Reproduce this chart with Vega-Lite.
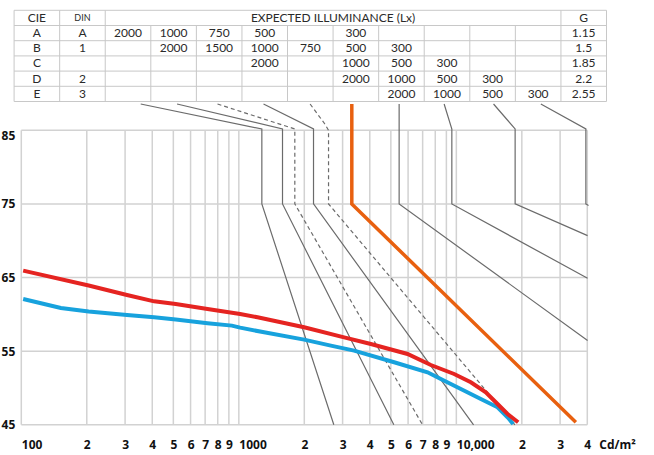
{
  "$schema": "https://vega.github.io/schema/vega-lite/v6.json",
  "padding": {"left": 0.3, "top": 9.3, "right": 8, "bottom": 4},
  "background": "white",
  "spacing": -5.5,
  "config": {"view": {"stroke": null}},
  "datasets": {
    "tableH": [
      {"r": 0, "c0": 0, "c1": 13}, {"r": 1, "c0": 0, "c1": 13}, {"r": 2, "c0": 0, "c1": 13},
      {"r": 3, "c0": 0, "c1": 13}, {"r": 4, "c0": 0, "c1": 13}, {"r": 5, "c0": 0, "c1": 13},
      {"r": 6, "c0": 0, "c1": 13}
    ],
    "tableV": [
      {"c": 0, "r0": 0, "r1": 6}, {"c": 1, "r0": 0, "r1": 6}, {"c": 2, "r0": 0, "r1": 6},
      {"c": 3, "r0": 1, "r1": 6}, {"c": 4, "r0": 1, "r1": 6}, {"c": 5, "r0": 1, "r1": 6},
      {"c": 6, "r0": 1, "r1": 6}, {"c": 7, "r0": 1, "r1": 6}, {"c": 8, "r0": 1, "r1": 6},
      {"c": 9, "r0": 1, "r1": 6}, {"c": 10, "r0": 1, "r1": 6}, {"c": 11, "r0": 1, "r1": 6},
      {"c": 12, "r0": 0, "r1": 6}, {"c": 13, "r0": 0, "r1": 6}
    ],
    "tableT": [
      {"x": 0.5, "y": 0.5, "t": "CIE"}, {"x": 1.5, "y": 0.5, "t": "DIN"},
      {"x": 7, "y": 0.5, "t": "EXPECTED ILLUMINANCE (Lx)"}, {"x": 12.5, "y": 0.5, "t": "G"},
      {"x": 0.5, "y": 1.5, "t": "A"}, {"x": 1.5, "y": 1.5, "t": "A"}, {"x": 2.5, "y": 1.5, "t": "2000"},
      {"x": 3.5, "y": 1.5, "t": "1000"}, {"x": 4.5, "y": 1.5, "t": "750"}, {"x": 5.5, "y": 1.5, "t": "500"},
      {"x": 7.5, "y": 1.5, "t": "300"}, {"x": 12.5, "y": 1.5, "t": "1.15"},
      {"x": 0.5, "y": 2.5, "t": "B"}, {"x": 1.5, "y": 2.5, "t": "1"}, {"x": 3.5, "y": 2.5, "t": "2000"},
      {"x": 4.5, "y": 2.5, "t": "1500"}, {"x": 5.5, "y": 2.5, "t": "1000"}, {"x": 6.5, "y": 2.5, "t": "750"},
      {"x": 7.5, "y": 2.5, "t": "500"}, {"x": 8.5, "y": 2.5, "t": "300"}, {"x": 12.5, "y": 2.5, "t": "1.5"},
      {"x": 0.5, "y": 3.5, "t": "C"}, {"x": 5.5, "y": 3.5, "t": "2000"}, {"x": 7.5, "y": 3.5, "t": "1000"},
      {"x": 8.5, "y": 3.5, "t": "500"}, {"x": 9.5, "y": 3.5, "t": "300"}, {"x": 12.5, "y": 3.5, "t": "1.85"},
      {"x": 0.5, "y": 4.5, "t": "D"}, {"x": 1.5, "y": 4.5, "t": "2"}, {"x": 7.5, "y": 4.5, "t": "2000"},
      {"x": 8.5, "y": 4.5, "t": "1000"}, {"x": 9.5, "y": 4.5, "t": "500"}, {"x": 10.5, "y": 4.5, "t": "300"},
      {"x": 12.5, "y": 4.5, "t": "2.2"},
      {"x": 0.5, "y": 5.5, "t": "E"}, {"x": 1.5, "y": 5.5, "t": "3"}, {"x": 8.5, "y": 5.5, "t": "2000"},
      {"x": 9.5, "y": 5.5, "t": "1000"}, {"x": 10.5, "y": 5.5, "t": "500"}, {"x": 11.5, "y": 5.5, "t": "300"},
      {"x": 12.5, "y": 5.5, "t": "2.55"}
    ],
    "gridX": [
      {"v": 100}, {"v": 200}, {"v": 300}, {"v": 400}, {"v": 500}, {"v": 600}, {"v": 700}, {"v": 800}, {"v": 900},
      {"v": 1000}, {"v": 2000}, {"v": 3000}, {"v": 4000}, {"v": 5000}, {"v": 6000}, {"v": 7000}, {"v": 8000},
      {"v": 9000}, {"v": 10000}, {"v": 20000}, {"v": 30000}, {"v": 40000}
    ],
    "gridY": [{"a": 45}, {"a": 55}, {"a": 65}, {"a": 75}, {"a": 85}],
    "lines": [
      {"id": "L1", "k": "s", "o": 1, "lum": 354, "ang": 88.57},
      {"id": "L1", "k": "s", "o": 2, "lum": 1276, "ang": 85.18},
      {"id": "L1", "k": "s", "o": 3, "lum": 1276, "ang": 75},
      {"id": "L1", "k": "s", "o": 4, "lum": 2734, "ang": 45},
      {"id": "L2", "k": "s", "o": 1, "lum": 520, "ang": 88.57},
      {"id": "L2", "k": "s", "o": 2, "lum": 1588, "ang": 85.18},
      {"id": "L2", "k": "s", "o": 3, "lum": 1588, "ang": 75},
      {"id": "L2", "k": "s", "o": 4, "lum": 5160, "ang": 45},
      {"id": "L4", "k": "s", "o": 1, "lum": 1299, "ang": 88.57},
      {"id": "L4", "k": "s", "o": 2, "lum": 2205, "ang": 85.18},
      {"id": "L4", "k": "s", "o": 3, "lum": 2205, "ang": 75},
      {"id": "L4", "k": "s", "o": 4, "lum": 12000, "ang": 45},
      {"id": "L7", "k": "s", "o": 1, "lum": 5458, "ang": 88.57},
      {"id": "L7", "k": "s", "o": 2, "lum": 5458, "ang": 75},
      {"id": "L7", "k": "s", "o": 3, "lum": 40110, "ang": 56.44},
      {"id": "L8", "k": "s", "o": 1, "lum": 8788, "ang": 88.57},
      {"id": "L8", "k": "s", "o": 2, "lum": 9535, "ang": 85.18},
      {"id": "L8", "k": "s", "o": 3, "lum": 9535, "ang": 75},
      {"id": "L8", "k": "s", "o": 4, "lum": 40110, "ang": 64.9},
      {"id": "L9", "k": "s", "o": 1, "lum": 14826, "ang": 88.57},
      {"id": "L9", "k": "s", "o": 2, "lum": 18634, "ang": 85.18},
      {"id": "L9", "k": "s", "o": 3, "lum": 18634, "ang": 75},
      {"id": "L9", "k": "s", "o": 4, "lum": 40110, "ang": 70.7},
      {"id": "L10", "k": "s", "o": 1, "lum": 24460, "ang": 88.57},
      {"id": "L10", "k": "s", "o": 2, "lum": 39400, "ang": 85.18},
      {"id": "L10", "k": "s", "o": 3, "lum": 39400, "ang": 75},
      {"id": "L10", "k": "s", "o": 4, "lum": 40530, "ang": 74.77},
      {"id": "L3", "k": "d", "o": 1, "lum": 798, "ang": 88.57},
      {"id": "L3", "k": "d", "o": 2, "lum": 1809, "ang": 85.18},
      {"id": "L3", "k": "d", "o": 3, "lum": 1809, "ang": 75},
      {"id": "L3", "k": "d", "o": 4, "lum": 6992, "ang": 45},
      {"id": "L5", "k": "d", "o": 1, "lum": 2127, "ang": 88.57},
      {"id": "L5", "k": "d", "o": 2, "lum": 2486, "ang": 85.86},
      {"id": "L5", "k": "d", "o": 3, "lum": 2585, "ang": 85.0},
      {"id": "L5", "k": "d", "o": 4, "lum": 2585, "ang": 75},
      {"id": "L5", "k": "d", "o": 5, "lum": 18578, "ang": 45},
      {"id": "OR", "k": "o", "o": 1, "lum": 3307, "ang": 88.57},
      {"id": "OR", "k": "o", "o": 2, "lum": 3307, "ang": 75},
      {"id": "OR", "k": "o", "o": 3, "lum": 35430, "ang": 45.34},
      {"id": "BL", "k": "b", "o": 1, "lum": 102, "ang": 62.09},
      {"id": "BL", "k": "b", "o": 2, "lum": 152, "ang": 60.86},
      {"id": "BL", "k": "b", "o": 3, "lum": 204, "ang": 60.38},
      {"id": "BL", "k": "b", "o": 4, "lum": 306, "ang": 59.91},
      {"id": "BL", "k": "b", "o": 5, "lum": 408, "ang": 59.6},
      {"id": "BL", "k": "b", "o": 6, "lum": 513, "ang": 59.29},
      {"id": "BL", "k": "b", "o": 7, "lum": 718, "ang": 58.79},
      {"id": "BL", "k": "b", "o": 8, "lum": 929, "ang": 58.47},
      {"id": "BL", "k": "b", "o": 9, "lum": 1014, "ang": 58.2},
      {"id": "BL", "k": "b", "o": 10, "lum": 1307, "ang": 57.56},
      {"id": "BL", "k": "b", "o": 11, "lum": 1996, "ang": 56.57},
      {"id": "BL", "k": "b", "o": 12, "lum": 2649, "ang": 55.76},
      {"id": "BL", "k": "b", "o": 13, "lum": 3390, "ang": 55.08},
      {"id": "BL", "k": "b", "o": 14, "lum": 5176, "ang": 53.49},
      {"id": "BL", "k": "b", "o": 15, "lum": 7373, "ang": 52.13},
      {"id": "BL", "k": "b", "o": 16, "lum": 8486, "ang": 51.22},
      {"id": "BL", "k": "b", "o": 17, "lum": 10490, "ang": 49.86},
      {"id": "BL", "k": "b", "o": 18, "lum": 12960, "ang": 48.5},
      {"id": "BL", "k": "b", "o": 19, "lum": 15470, "ang": 47.38},
      {"id": "BL", "k": "b", "o": 20, "lum": 17200, "ang": 46.02},
      {"id": "BL", "k": "b", "o": 21, "lum": 18250, "ang": 45.11},
      {"id": "RD", "k": "r", "o": 1, "lum": 102, "ang": 65.94},
      {"id": "RD", "k": "r", "o": 2, "lum": 204, "ang": 63.91},
      {"id": "RD", "k": "r", "o": 3, "lum": 306, "ang": 62.63},
      {"id": "RD", "k": "r", "o": 4, "lum": 408, "ang": 61.77},
      {"id": "RD", "k": "r", "o": 5, "lum": 513, "ang": 61.41},
      {"id": "RD", "k": "r", "o": 6, "lum": 718, "ang": 60.73},
      {"id": "RD", "k": "r", "o": 7, "lum": 1014, "ang": 60.05},
      {"id": "RD", "k": "r", "o": 8, "lum": 1219, "ang": 59.6},
      {"id": "RD", "k": "r", "o": 9, "lum": 1996, "ang": 58.24},
      {"id": "RD", "k": "r", "o": 10, "lum": 3049, "ang": 56.88},
      {"id": "RD", "k": "r", "o": 11, "lum": 4045, "ang": 55.97},
      {"id": "RD", "k": "r", "o": 12, "lum": 5965, "ang": 54.62},
      {"id": "RD", "k": "r", "o": 13, "lum": 7636, "ang": 53.12},
      {"id": "RD", "k": "r", "o": 14, "lum": 9771, "ang": 51.9},
      {"id": "RD", "k": "r", "o": 15, "lum": 11660, "ang": 50.77},
      {"id": "RD", "k": "r", "o": 16, "lum": 13660, "ang": 49.41},
      {"id": "RD", "k": "r", "o": 17, "lum": 15470, "ang": 47.82},
      {"id": "RD", "k": "r", "o": 18, "lum": 17200, "ang": 46.47},
      {"id": "RD", "k": "r", "o": 19, "lum": 19240, "ang": 45.34}
    ]
  },
  "vconcat": [
    {
      "width": 566,
      "height": 91.2,
      "encoding": {
        "x": {"type": "quantitative", "scale": {"domain": [0, 13], "range": [-7.2, 585.2], "nice": false, "zero": false}, "axis": null},
        "y": {"type": "quantitative", "scale": {"domain": [0, 6], "range": [0, 91.2], "nice": false, "zero": false}, "axis": null}
      },
      "layer": [
        {
          "data": {"name": "tableH"},
          "mark": {"type": "rule", "color": "#c8c8c8", "strokeWidth": 1},
          "encoding": {
            "y": {"field": "r", "type": "quantitative"},
            "x": {"field": "c0", "type": "quantitative"},
            "x2": {"field": "c1"}
          }
        },
        {
          "data": {"name": "tableV"},
          "mark": {"type": "rule", "color": "#c8c8c8", "strokeWidth": 1},
          "encoding": {
            "x": {"field": "c", "type": "quantitative"},
            "y": {"field": "r0", "type": "quantitative"},
            "y2": {"field": "r1"}
          }
        },
        {
          "data": {"name": "tableT"},
          "mark": {"type": "text", "font": "Lato", "color": "#2a2a2a", "baseline": "middle", "align": "center"},
          "encoding": {
            "x": {"field": "x", "type": "quantitative"},
            "y": {"field": "y", "type": "quantitative"},
            "text": {"field": "t", "type": "nominal"},
            "size": {"condition": {"test": "datum.t === 'DIN'", "value": 9}, "value": 12}
          }
        }
      ]
    },
    {
      "width": 566,
      "height": 322,
      "encoding": {
        "x": {"type": "quantitative", "scale": {"type": "log", "domain": [100, 40000], "nice": false}},
        "y": {"type": "quantitative", "scale": {"domain": [45, 85], "range": [322, 27.5], "nice": false, "zero": false}}
      },
      "layer": [
        {
          "data": {"name": "gridX"},
          "mark": {"type": "rule", "color": "#d2d2d2", "strokeWidth": 1.5},
          "encoding": {
            "x": {
              "field": "v", "type": "quantitative",
              "axis": {
                "values": [100, 200, 300, 400, 500, 600, 700, 800, 900, 1000, 2000, 3000, 4000, 5000, 6000, 7000, 8000, 9000, 10000, 20000, 30000, 40000],
                "grid": false, "domain": false, "ticks": false,
                "labelPadding": 15, "labelFont": "Open Sans", "labelFontWeight": "bold", "labelFontSize": 12, "labelColor": "#111111",
                "labelOverlap": false, "labelFlush": false, "labelBound": false,
                "labelExpr": "datum.value == 100 ? '100' : datum.value == 1000 ? '1000' : datum.value == 10000 ? '10,000' : substring(toString(datum.value), 0, 1)",
                "labelAlign": {"condition": {"test": "datum.value == 100 || datum.value == 1000 || datum.value == 10000", "value": "left"}, "value": "center"},
                "title": "Cd/m²", "titleX": 577.5, "titleY": 15, "titleAlign": "left", "titleBaseline": "top", "titleAnchor": "start",
                "titleFont": "Open Sans", "titleFontWeight": "bold", "titleFontSize": 12, "titleColor": "#111111"
              }
            },
            "y": {"datum": 45, "type": "quantitative"},
            "y2": {"datum": 85}
          }
        },
        {
          "data": {"name": "gridY"},
          "mark": {"type": "rule", "color": "#d2d2d2", "strokeWidth": 1.5},
          "encoding": {
            "y": {
              "field": "a", "type": "quantitative",
              "axis": {
                "values": [45, 55, 65, 75, 85], "grid": false, "domain": false, "ticks": false,
                "labelPadding": 6.5, "labelFont": "Open Sans", "labelFontWeight": "bold", "labelFontSize": 12, "labelColor": "#111111",
                "labelOverlap": false, "labelBound": false, "labelFlush": false,
                "labelBaseline": {"condition": {"test": "datum.value == 85", "value": "top"}, "value": "middle"},
                "title": null
              }
            },
            "x": {"datum": 100, "type": "quantitative"},
            "x2": {"datum": 40000}
          }
        },
        {
          "data": {"name": "lines"},
          "transform": [{"filter": "datum.k === 's'"}],
          "mark": {"type": "line", "color": "#6b6b6b", "strokeWidth": 1.2, "clip": false},
          "encoding": {
            "x": {"field": "lum", "type": "quantitative"},
            "y": {"field": "ang", "type": "quantitative"},
            "detail": {"field": "id", "type": "nominal"},
            "order": {"field": "o", "type": "quantitative"}
          }
        },
        {
          "data": {"name": "lines"},
          "transform": [{"filter": "datum.k === 'd'"}],
          "mark": {"type": "line", "color": "#6b6b6b", "strokeWidth": 1.2, "strokeDash": [4, 3], "clip": false},
          "encoding": {
            "x": {"field": "lum", "type": "quantitative"},
            "y": {"field": "ang", "type": "quantitative"},
            "detail": {"field": "id", "type": "nominal"},
            "order": {"field": "o", "type": "quantitative"}
          }
        },
        {
          "data": {"name": "lines"},
          "transform": [{"filter": "datum.k === 'o'"}],
          "mark": {"type": "line", "color": "#e8600f", "strokeWidth": 3.5, "clip": false},
          "encoding": {
            "x": {"field": "lum", "type": "quantitative"},
            "y": {"field": "ang", "type": "quantitative"},
            "order": {"field": "o", "type": "quantitative"}
          }
        },
        {
          "data": {"name": "lines"},
          "transform": [{"filter": "datum.k === 'b'"}],
          "mark": {"type": "line", "color": "#17a2dd", "strokeWidth": 4, "clip": false},
          "encoding": {
            "x": {"field": "lum", "type": "quantitative"},
            "y": {"field": "ang", "type": "quantitative"},
            "order": {"field": "o", "type": "quantitative"}
          }
        },
        {
          "data": {"name": "lines"},
          "transform": [{"filter": "datum.k === 'r'"}],
          "mark": {"type": "line", "color": "#e52421", "strokeWidth": 4, "clip": false},
          "encoding": {
            "x": {"field": "lum", "type": "quantitative"},
            "y": {"field": "ang", "type": "quantitative"},
            "order": {"field": "o", "type": "quantitative"}
          }
        }
      ]
    }
  ]
}
